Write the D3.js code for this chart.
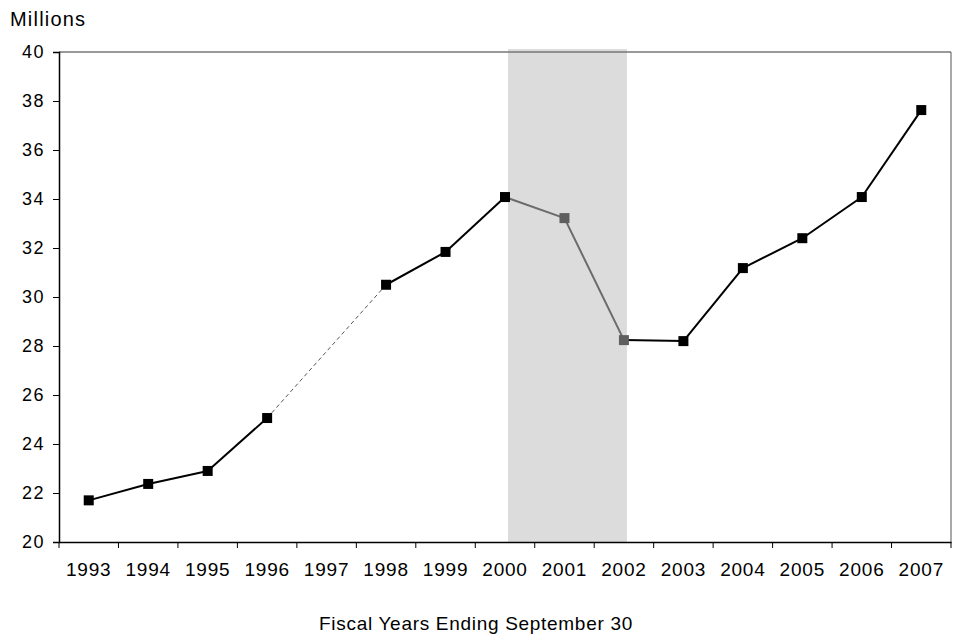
<!DOCTYPE html>
<html><head><meta charset="utf-8">
<script src="https://cdn.jsdelivr.net/npm/d3@7"></script>
<style>body{margin:0;background:#fff;} text{font-family:"Liberation Sans",Arial,sans-serif;}</style>
</head><body>
<svg id="c" width="953" height="639"></svg>
<script>
const years = ["1993","1994","1995","1996","1997","1998","1999","2000","2001","2002","2003","2004","2005","2006","2007"];
const values = [21.7,22.37,22.9,25.06,null,30.5,31.84,34.08,33.22,28.24,28.2,31.18,32.4,34.08,37.63];
const yTicks = [20,22,24,26,28,30,32,34,36,38,40];
const shadeYears = ["2000","2002"];
const greyYears = ["2001","2002"];

const svg = d3.select("#c");
const L=59,R=951,T=52,B=542;
const x = d3.scaleBand().domain(years).range([L,R]);
const y = d3.scaleLinear().domain([20,40]).range([B,T]);
const cx = d => x(d)+x.bandwidth()/2;

// shade
svg.append("rect").attr("x",cx(shadeYears[0])+3).attr("y",T-3)
  .attr("width",cx(shadeYears[1])-cx(shadeYears[0])).attr("height",B-T+3).attr("fill","#dcdcdc");

// border top/right
svg.append("line").attr("x1",L).attr("x2",R).attr("y1",T).attr("y2",T).attr("stroke","#777").attr("stroke-width",1.5);
svg.append("line").attr("x1",R).attr("x2",R).attr("y1",T).attr("y2",B).attr("stroke","#555").attr("stroke-width",1);

// y axis
const ya = svg.append("g").attr("transform",`translate(${L},0)`)
  .call(d3.axisLeft(y).tickValues(yTicks).tickSize(6).tickPadding(8));
ya.select(".domain").attr("stroke","#000").attr("stroke-width",1.5);
ya.selectAll("text").attr("font-size",18).attr("letter-spacing","1.5px").attr("fill","#000");

// x axis
const xa = svg.append("g").attr("transform",`translate(0,${B})`)
  .call(d3.axisBottom(x).tickSize(0).tickPadding(21));
xa.select(".domain").attr("stroke","#000").attr("stroke-width",1.5);
xa.selectAll("text").attr("font-size",19).attr("letter-spacing","0.8px").attr("fill","#000");
const bounds = years.map(d=>x(d)).concat([R]);
svg.append("g").selectAll("line").data(bounds).join("line")
  .attr("x1",d=>d).attr("x2",d=>d).attr("y1",B).attr("y2",B+6).attr("stroke","#000");

// lines
const pts = years.map((d,i)=>({year:d,v:values[i]}));
for(let i=0;i<pts.length-1;i++){
  let a=pts[i], j=i+1;
  if(a.v==null) continue;
  let dashed=false;
  if(pts[j].v==null){ j++; dashed=true; }
  const b=pts[j];
  const grey = greyYears.includes(b.year) && !(a.year==="2002");
  svg.append("line").attr("x1",cx(a.year)).attr("y1",y(a.v)).attr("x2",cx(b.year)).attr("y2",y(b.v))
    .attr("stroke",dashed?"#555":(grey?"#6b6b6b":"#000"))
    .attr("stroke-width",dashed?1:2)
    .attr("stroke-dasharray",dashed?"4,3":null);
}
// markers
svg.append("g").selectAll("rect").data(pts.filter(p=>p.v!=null)).join("rect")
  .attr("x",d=>cx(d.year)-5).attr("y",d=>y(d.v)-5).attr("width",10).attr("height",10)
  .attr("fill",d=>greyYears.includes(d.year)?"#5f5f5f":"#000");

svg.append("text").attr("x",10).attr("y",26).attr("font-size",20).attr("letter-spacing","1.2px").text("Millions");
svg.append("text").attr("x",476).attr("y",630).attr("text-anchor","middle").attr("font-size",19).attr("letter-spacing","0.7px")
  .text("Fiscal Years Ending September 30");
</script>
</body></html>
